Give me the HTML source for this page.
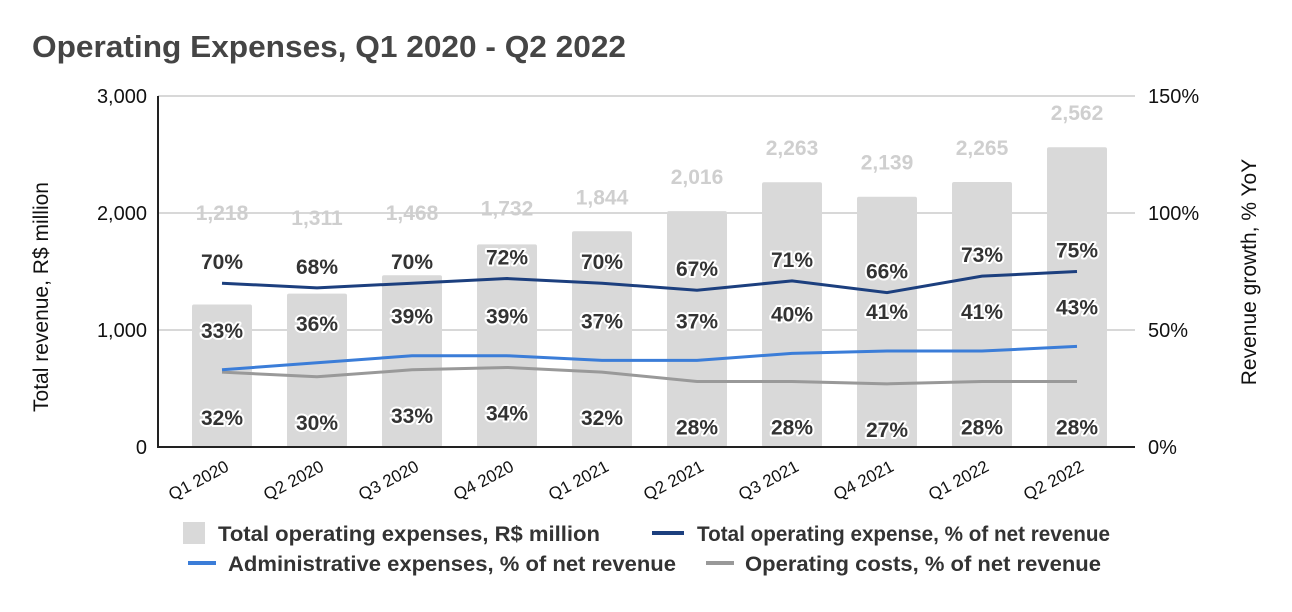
<!DOCTYPE html>
<html><head><meta charset="utf-8"><style>
body{margin:0;background:#fff;}
svg text{font-family:"Liberation Sans",Arial,sans-serif;}
</style></head><body>
<svg id="chart" width="1292" height="607" viewBox="0 0 1292 607" xmlns="http://www.w3.org/2000/svg">
<text x="32" y="57" font-size="31" font-weight="bold" fill="#454545" textLength="594" lengthAdjust="spacingAndGlyphs">Operating Expenses, Q1 2020 - Q2 2022</text>
<g id="grid"></g><g id="bars"></g><g id="lines"></g><g id="labels"></g><g id="axes"></g>
<text transform="translate(48,297) rotate(-90)" text-anchor="middle" font-size="21" fill="#111">Total revenue, R$ million</text>
<text transform="translate(1256,272) rotate(-90)" text-anchor="middle" font-size="21" fill="#111">Revenue growth, % YoY</text>
<g font-size="21" font-weight="bold" fill="#333">
<rect x="183" y="522" width="22" height="22" fill="#d9d9d9"/>
<text x="218" y="541" fill="#333" font-weight="bold" textLength="382" lengthAdjust="spacingAndGlyphs">Total operating expenses, R$ million</text>
<line x1="652" y1="533" x2="684" y2="533" stroke="#1c3f7e" stroke-width="4"/>
<text x="697" y="541" fill="#333" font-weight="bold" textLength="413" lengthAdjust="spacingAndGlyphs">Total operating expense, % of net revenue</text>
<line x1="188" y1="563" x2="216" y2="563" stroke="#3b7dd8" stroke-width="4"/>
<text x="228" y="571" fill="#333" font-weight="bold" textLength="448" lengthAdjust="spacingAndGlyphs">Administrative expenses, % of net revenue</text>
<line x1="706" y1="563" x2="734" y2="563" stroke="#999" stroke-width="4"/>
<text x="745" y="571" fill="#333" font-weight="bold" textLength="356" lengthAdjust="spacingAndGlyphs">Operating costs, % of net revenue</text>
</g>
</svg>
<script>
const categories=["Q1 2020","Q2 2020","Q3 2020","Q4 2020","Q1 2021","Q2 2021","Q3 2021","Q4 2021","Q1 2022","Q2 2022"];
const totalOpex=[1218,1311,1468,1732,1844,2016,2263,2139,2265,2562];
const opexPct=[70,68,70,72,70,67,71,66,73,75];
const adminPct=[33,36,39,39,37,37,40,41,41,43];
const opcostPct=[32,30,33,34,32,28,28,27,28,28];
const leftTicks=[0,1000,2000,3000];
const rightTicks=[0,50,100,150];
const NS="http://www.w3.org/2000/svg";
const X0=158,X1=1135,Y0=447,Y1=96;
const step=95;
const xc=i=>222+step*i;
const yL=v=>Y0-(v/3000)*(Y0-Y1);
const yR=v=>Y0-(v/150)*(Y0-Y1);
function mk(tag,attrs,parent,txt){const e=document.createElementNS(NS,tag);for(const k in attrs)e.setAttribute(k,attrs[k]);if(txt!==undefined)e.textContent=txt;document.getElementById(parent).appendChild(e);return e;}
leftTicks.forEach((t,i)=>{
 if(t>0){const g=mk('line',{x1:X0,x2:X1,y1:yL(t),y2:yL(t),stroke:'#ccc','stroke-width':1.5},'grid');
 
 }
 const l=mk('text',{x:147,y:yL(t)+7,'text-anchor':'end','font-size':20,fill:'#111'},'axes',t.toLocaleString('en-US'));
 
 
});
rightTicks.forEach(t=>{
 const l=mk('text',{x:1148,y:yR(t)+7,'font-size':20,fill:'#111'},'axes',t+'%');
 
 
});
const ax=mk('path',{d:`M${X0} ${Y1} V${Y0} H${X1}`,stroke:'#222','stroke-width':2,fill:'none'},'axes');


categories.forEach((c,i)=>{
 const b=mk('rect',{x:xc(i)-30,y:yL(totalOpex[i]),width:60,height:Y0-yL(totalOpex[i]),fill:'#d9d9d9',rx:2},'bars');
 
 
 const ly=Math.min(yL(totalOpex[i])-27,yR(opexPct[i])-63);
 const v=mk('text',{x:xc(i),y:ly,'text-anchor':'middle','font-size':21,'font-weight':'bold',fill:'#cfcfcf'},'labels',totalOpex[i].toLocaleString('en-US'));
 
 
 const xl=mk('text',{transform:`translate(${xc(i)+8},${470}) rotate(-28)`,'text-anchor':'end','font-size':17,fill:'#111'},'axes',c);
 
 
});
function series(vals,color,name,dy){
 const p=mk('polyline',{points:vals.map((v,i)=>xc(i)+','+yR(v)).join(' '),fill:'none',stroke:color,'stroke-width':3},'lines');
 
 
 vals.forEach((v,i)=>{
  const t=mk('text',{x:xc(i),y:yR(v)+dy,'text-anchor':'middle','font-size':21,'font-weight':'bold',fill:'#333',stroke:'#fff','stroke-width':4,'paint-order':'stroke','stroke-linejoin':'round'},'labels',v+'%');
  
  
 });
}
series(opcostPct,'#999','operating-costs-pct',53);
series(adminPct,'#3b7dd8','admin-expenses-pct',-32);
series(opexPct,'#1c3f7e','total-opex-pct',-14);
</script>
</body></html>
